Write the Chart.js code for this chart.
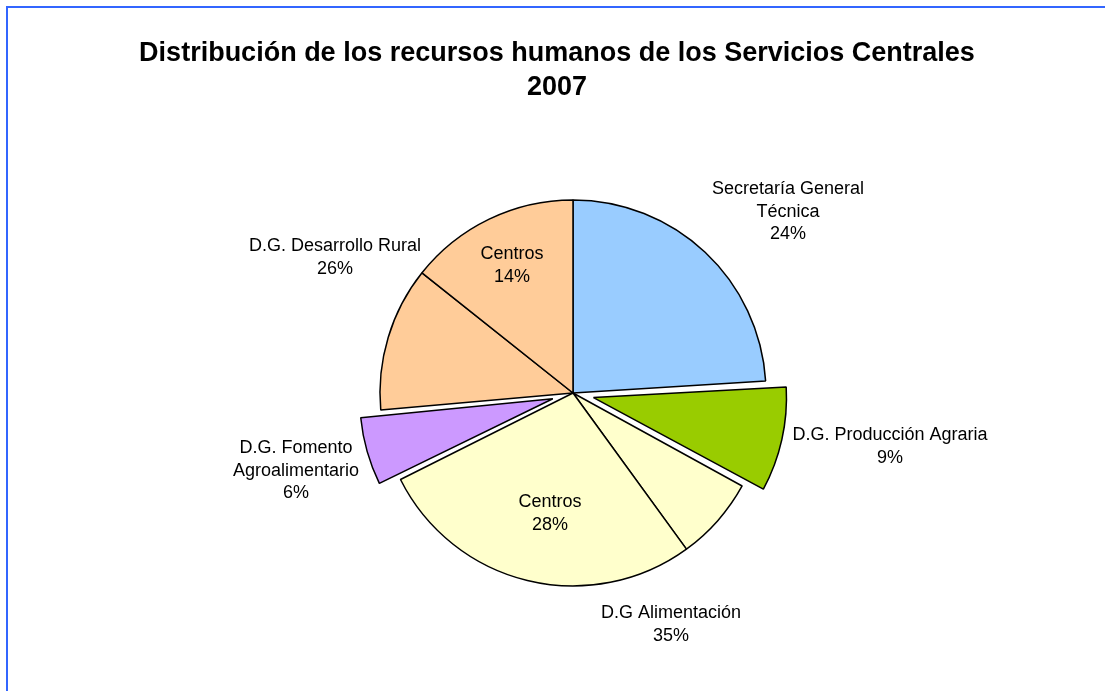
<!DOCTYPE html>
<html>
<head>
<meta charset="utf-8">
<script src="https://cdn.jsdelivr.net/npm/chart.js@4"></script>
<style>
  html, body { margin: 0; padding: 0; background: #fff; overflow: hidden; }
  #frame { position: absolute; left: 6px; top: 6px; width: 1300px; height: 900px; border: 2px solid #3366FF; }
  #myChart { position: absolute; left: 0; top: 0; }
</style>
</head>
<body>
<div id="frame"></div>
<canvas id="myChart" width="1105" height="691"></canvas>
<script>
// datos (en %)
const categories = [
  'Secretaría General Técnica',
  'D.G. Producción Agraria',
  'D.G Alimentación',
  'Centros (D.G Alimentación)',
  'D.G. Fomento Agroalimentario',
  'D.G. Desarrollo Rural',
  'Centros (D.G. Desarrollo Rural)'
];
const values = [24, 9, 7, 27.6, 6, 12.1, 14.3];
const titleLines = ['Distribución de los recursos humanos de los Servicios Centrales', '2007'];

const colors = ['#99CCFF', '#99CC00', '#FFFFCC', '#FFFFCC', '#CC99FF', '#FFCC99', '#FFCC99'];
// porciones separadas (chart.js desplaza offset/4 px)
const offsets = [0, 84, 0, 0, 84, 0, 0];

// etiquetas: texto, porciones sumadas, posicion relativa al centro (en px)
const labelDefs = [
  { lines: ['Secretaría General', 'Técnica'], slices: [0], dx: 215, dy: -199 },
  { lines: ['D.G. Producción Agraria'], slices: [1], dx: 317, dy: 47 },
  { lines: ['D.G Alimentación'], slices: [2, 3], dx: 98, dy: 225 },
  { lines: ['Centros'], slices: [3], dx: -23, dy: 114 },
  { lines: ['D.G. Fomento', 'Agroalimentario'], slices: [4], dx: -277, dy: 60 },
  { lines: ['D.G. Desarrollo Rural'], slices: [5, 6], dx: -238, dy: -142 },
  { lines: ['Centros'], slices: [6], dx: -61, dy: -134 }
];

const FONT = '"Liberation Sans", Arial, sans-serif';

// mantener el mismo radio en las porciones separadas
const explodePlugin = {
  id: 'explode',
  afterDatasetUpdate(chart) {
    chart.getDatasetMeta(0).data.forEach((arc, i) => {
      const o = offsets[i] / 4;
      const fix = 1 - Math.sin(Math.min(Math.PI, arc.circumference));
      arc.outerRadius -= o * fix;
    });
  }
};

const labelPlugin = {
  id: 'pieLabels',
  afterDraw(chart) {
    const ctx = chart.ctx;
    const cx = (chart.chartArea.left + chart.chartArea.right) / 2;
    const cy = (chart.chartArea.top + chart.chartArea.bottom) / 2;
    const total = values.reduce((a, b) => a + b, 0);

    ctx.save();
    ctx.fillStyle = '#000';
    ctx.textAlign = 'center';
    ctx.textBaseline = 'alphabetic';

    // titulo
    ctx.font = 'bold 27px ' + FONT;
    titleLines.forEach((t, i) => ctx.fillText(t, 557, 61 + i * 34));

    ctx.font = '18px ' + FONT;
    labelDefs.forEach(d => {
      const sum = d.slices.reduce((a, i) => a + values[i], 0);
      const lines = d.lines.concat([Math.round(sum / total * 100) + '%']);
      lines.forEach((t, i) => ctx.fillText(t, cx + d.dx, cy + d.dy + i * 22.5));
    });
    ctx.restore();
  }
};

const myChart = new Chart(document.getElementById('myChart'), {
  type: 'pie',
  data: {
    labels: categories,
    datasets: [{
      data: values,
      backgroundColor: colors,
      borderColor: '#000',
      borderWidth: 1.5,
      offset: offsets,
      hoverOffset: 0,
      radius: 193
    }]
  },
  options: {
    responsive: false,
    animation: false,
    layout: { padding: { left: 273, right: 232, top: 189, bottom: 94 } },
    plugins: {
      legend: { display: false },
      title: { display: false },
      tooltip: { enabled: false }
    }
  },
  plugins: [explodePlugin, labelPlugin]
});
</script>
</body>
</html>
